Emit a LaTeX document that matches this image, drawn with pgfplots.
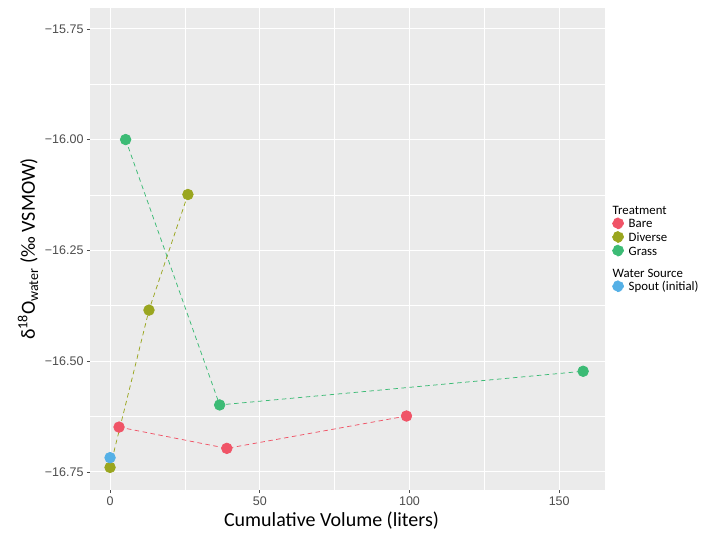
\documentclass[border=0pt]{standalone}
\usepackage{pgfplots}
\pgfplotsset{compat=1.18}
\usepackage{fontspec}
\setmainfont{Carlito}
\newfontfamily\tickfont{Liberation Sans}
\definecolor{bare}{HTML}{F05467}
\definecolor{diverse}{HTML}{9AA61F}
\definecolor{grass}{HTML}{3CBB75}
\definecolor{spout}{HTML}{55B0E6}
\definecolor{panel}{HTML}{EBEBEB}
\definecolor{tickc}{HTML}{4D4D4D}
\newcommand{\ls}{\rule[-4bp]{0pt}{14.5bp}}
\begin{document}
\begin{tikzpicture}
\path[use as bounding box] (-90bp,-45bp) rectangle (611bp,490bp);
\begin{axis}[
  at={(0,0)}, anchor=south west,
  scale only axis, width=515bp, height=482bp,
  xmin=-6.7, xmax=165.3, ymin=-16.791, ymax=-15.703,
  axis background/.style={fill=panel},
  axis line style={draw=none},
  xtick={0,50,100,150}, minor xtick={25,75,125},
  ytick={-16.75,-16.5,-16.25,-16,-15.75},
  yticklabels={−16.75,−16.50,−16.25,−16.00,−15.75},
  minor ytick={-16.625,-16.375,-16.125,-15.875},
  /pgf/number format/assume math mode=true,
  ticklabel style={font=\tickfont\fontsize{12.5bp}{14bp}\selectfont, text=tickc},
  tick style={draw=tickc, line width=0.6bp},
  major tick length=3bp, minor tick length=0pt,
  tick align=outside, xtick pos=bottom, ytick pos=left,
  grid=both,
  major grid style={draw=white, line width=1.1bp},
  minor grid style={draw=white, line width=0.55bp},
  xlabel={Cumulative Volume (liters)},
  ylabel={δ\textsuperscript{18}O\textsubscript{water} (‰ VSMOW)},
  label style={font=\fontsize{20bp}{24bp}\selectfont},
  xlabel style={at={(axis description cs:0.469,-0.0643)}, anchor=center},
  ylabel style={at={(axis description cs:-0.1204,0.5)}, anchor=center},
  legend style={at={(1,0.5)}, anchor=west, xshift=4bp, yshift=1bp, draw=none, fill=none,
    font=\fontsize{12.8bp}{14bp}\selectfont, row sep=0bp,
    nodes={inner sep=0.8bp},
    /tikz/every odd column/.append style={column sep=4bp}},
  legend cell align=left,
  legend image code/.code={\fill[#1] (5.5bp,0bp) circle (5.5bp);},
  every axis plot/.append style={line width=0.75bp, dash pattern=on 4.5bp off 3.5bp},
  mark size=5.3bp,
]
\addlegendimage{empty legend}
\addlegendentry{\hspace*{-16bp}\ls Treatment}
\addlegendimage{bare, fill=bare}
\addlegendentry{\ls Bare}
\addlegendimage{diverse, fill=diverse}
\addlegendentry{\ls Diverse}
\addlegendimage{grass, fill=grass}
\addlegendentry{\ls Grass}
\addlegendimage{empty legend}
\addlegendentry{\hspace*{-16bp}\rule[-4bp]{0pt}{23bp}Water Source}
\addlegendimage{spout, fill=spout}
\addlegendentry{\ls Spout (initial)}

\addplot[bare, forget plot] coordinates {(3,-16.649) (39,-16.697) (99,-16.624)};
\addplot[diverse, forget plot] coordinates {(0,-16.740) (13,-16.385) (26,-16.124)};
\addplot[grass, forget plot] coordinates {(5.2,-16.000) (36.6,-16.599) (158,-16.523)};

\addplot[bare, only marks, mark=*, mark options={solid, draw=bare, fill=bare}, forget plot] coordinates {(3,-16.649) (39,-16.697) (99,-16.624)};
\addplot[diverse, only marks, mark=*, mark options={solid, draw=diverse, fill=diverse}, forget plot] coordinates {(0,-16.740) (13,-16.385) (26,-16.124)};
\addplot[grass, only marks, mark=*, mark options={solid, draw=grass, fill=grass}, forget plot] coordinates {(5.2,-16.000) (36.6,-16.599) (158,-16.523)};
\addplot[spout, only marks, mark=*, mark options={solid, draw=spout, fill=spout}, forget plot] coordinates {(0,-16.718)};
\end{axis}
\end{tikzpicture}
\end{document}
